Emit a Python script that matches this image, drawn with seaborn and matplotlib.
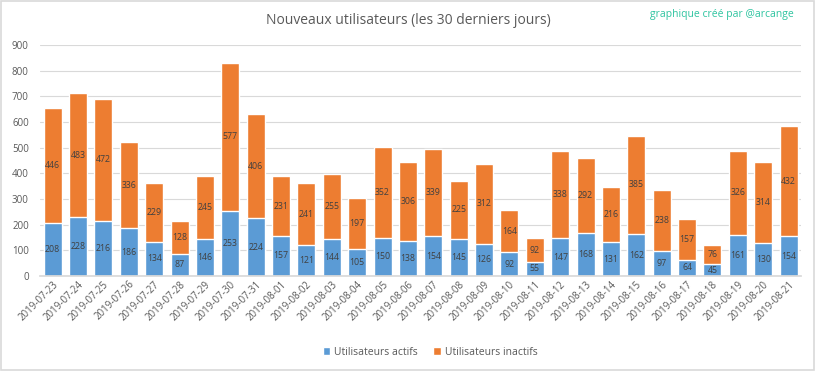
import matplotlib
matplotlib.use("Agg")
import matplotlib.pyplot as plt
import seaborn as sns
import pandas as pd
from matplotlib.patches import Rectangle

dates = ["2019-07-23", "2019-07-24", "2019-07-25", "2019-07-26", "2019-07-27", "2019-07-28",
         "2019-07-29", "2019-07-30", "2019-07-31", "2019-08-01", "2019-08-02", "2019-08-03",
         "2019-08-04", "2019-08-05", "2019-08-06", "2019-08-07", "2019-08-08", "2019-08-09",
         "2019-08-10", "2019-08-11", "2019-08-12", "2019-08-13", "2019-08-14", "2019-08-15",
         "2019-08-16", "2019-08-17", "2019-08-18", "2019-08-19", "2019-08-20", "2019-08-21"]
actifs = [208, 228, 216, 186, 134, 87, 146, 253, 224, 157, 121, 144, 105, 150, 138,
          154, 145, 126, 92, 55, 147, 168, 131, 162, 97, 64, 45, 161, 130, 154]
inactifs = [446, 483, 472, 336, 229, 128, 245, 577, 406, 231, 241, 255, 197, 352, 306,
            339, 225, 312, 164, 92, 338, 292, 216, 385, 238, 157, 76, 326, 314, 432]

df = pd.DataFrame({"date": dates, "actifs": actifs, "inactifs": inactifs})
df["total"] = df["actifs"] + df["inactifs"]

BLUE = "#5B9BD5"
ORANGE = "#ED7D31"
GRAY = "#595959"

sns.set_theme(style="white")
plt.rcParams["font.family"] = ["Open Sans", "DejaVu Sans"]

fig = plt.figure(figsize=(8.16, 3.71), dpi=100)
ax = fig.add_axes([0.049, 0.256, 0.933, 0.623])

sns.barplot(data=df, x="date", y="total", color=ORANGE, saturation=1, width=0.71,
            ax=ax, label="Utilisateurs inactifs")
sns.barplot(data=df, x="date", y="actifs", color=BLUE, saturation=1, width=0.71,
            ax=ax, label="Utilisateurs actifs")

handles, labels = ax.get_legend_handles_labels()
if ax.get_legend() is not None:
    ax.get_legend().remove()

cont_tot = ax.containers[0]
cont_act = ax.containers[1]
for bar, v_act, v_in in zip(cont_tot, actifs, inactifs):
    xc = bar.get_x() + bar.get_width() / 2
    ax.text(xc, v_act + v_in / 2, str(v_in), ha="center", va="center",
            fontsize=6.3, color="#404040")
for bar, v_act in zip(cont_act, actifs):
    xc = bar.get_x() + bar.get_width() / 2
    ax.text(xc, v_act / 2, str(v_act), ha="center", va="center",
            fontsize=6.3, color="#404040")

ax.set_ylim(0, 900)
ax.set_xlim(-0.5, len(dates) - 0.5)
ax.set_yticks(range(0, 901, 100))
ax.yaxis.grid(True, color="#D9D9D9", linewidth=0.8)
ax.set_axisbelow(True)
for s in ["top", "right", "left"]:
    ax.spines[s].set_visible(False)
ax.spines["bottom"].set_color("#D9D9D9")
ax.set_xlabel("")
ax.set_ylabel("")
ax.tick_params(axis="y", labelsize=7, colors=GRAY, length=0, pad=8)
ax.tick_params(axis="x", labelsize=7, colors=GRAY, length=0, pad=2)
plt.setp(ax.get_xticklabels(), rotation=45, ha="right", rotation_mode="anchor")

order = [labels.index("Utilisateurs actifs"), labels.index("Utilisateurs inactifs")]
leg = fig.legend([handles[i] for i in order], [labels[i] for i in order],
                 loc="center", bbox_to_anchor=(0.527, 0.051), ncol=2, frameon=False,
                 fontsize=7.5, handlelength=0.7, handleheight=0.7, columnspacing=1.5,
                 handletextpad=0.4)
for t in leg.get_texts():
    t.set_color(GRAY)

fig.text(0.5, 0.945, "Nouveaux utilisateurs (les 30 derniers jours)", ha="center",
         va="center", fontsize=10, color=GRAY)
fig.text(0.885, 0.96, "graphique créé par @arcange", ha="center", va="center",
         fontsize=7.5, color="#2EC4A0")

fig.patches.append(Rectangle((0.001, 0.002), 0.997, 0.995, transform=fig.transFigure,
                             fill=False, edgecolor="#D9D9D9", linewidth=1.2))

fig.savefig("out.png", dpi=100)
